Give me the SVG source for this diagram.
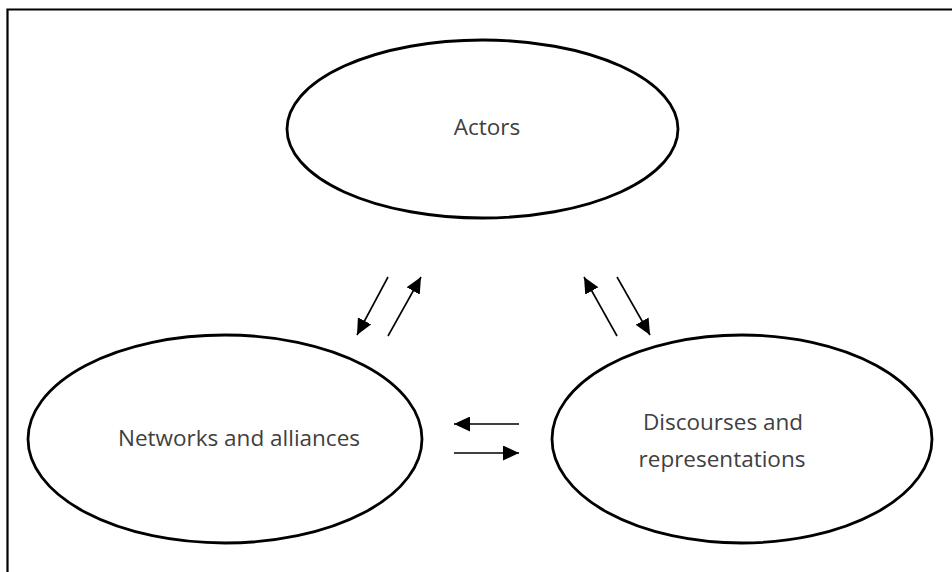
<svg xmlns="http://www.w3.org/2000/svg" width="952" height="572" viewBox="0 0 952 572">
  <defs>
    <marker id="ah" markerUnits="userSpaceOnUse" markerWidth="16" markerHeight="15" refX="16" refY="7.5" orient="auto">
      <path d="M0,0 L16,7.5 L0,15 z" fill="#000"/>
    </marker>
    <style>
      .node ellipse { fill: #fff; stroke: #000; stroke-width: 2.8; }
      .node text { font-family: "Open Sans", "Liberation Sans", sans-serif; font-size: 22.5px; fill: #404040; text-anchor: middle; }
      #connectors line { stroke: #000; stroke-width: 1.6; marker-end: url(#ah); }
    </style>
  </defs>
  <rect x="0" y="0" width="952" height="572" fill="#fff"/>
  <path d="M7.5,572 V9.5 H952" fill="none" stroke="#000" stroke-width="2.2"/>
  <g id="actors" class="node">
    <ellipse cx="482.5" cy="129" rx="195.5" ry="89"/>
    <text x="487" y="135">Actors</text>
  </g>
  <g id="networks" class="node">
    <ellipse cx="225" cy="439" rx="197" ry="104"/>
    <text x="239" y="446">Networks and alliances</text>
  </g>
  <g id="discourses" class="node">
    <ellipse cx="742" cy="439" rx="190" ry="104"/>
    <text x="723" y="430">Discourses and</text>
    <text x="722" y="467">representations</text>
  </g>
  <g id="connectors">
    <line x1="388" y1="277" x2="357" y2="335"/>
    <line x1="388" y1="336" x2="421" y2="277"/>
    <line x1="617" y1="336" x2="584" y2="277"/>
    <line x1="617" y1="277" x2="650" y2="335"/>
    <line x1="519" y1="424" x2="454" y2="424"/>
    <line x1="454" y1="453" x2="519" y2="453"/>
  </g>
</svg>
